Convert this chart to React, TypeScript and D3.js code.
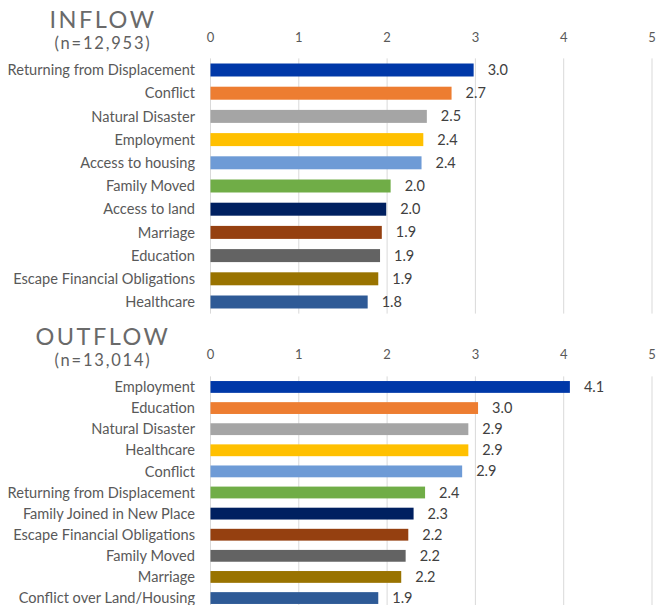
import React from 'react';
import { scaleLinear, scaleBand } from 'd3';

const inflowCategories = [
  'Returning from Displacement', 'Conflict', 'Natural Disaster', 'Employment',
  'Access to housing', 'Family Moved', 'Access to land', 'Marriage',
  'Education', 'Escape Financial Obligations', 'Healthcare',
];
const inflowValues = [2.98, 2.73, 2.45, 2.41, 2.39, 2.04, 1.99, 1.94, 1.92, 1.9, 1.78];
const inflowLabels = ['3.0', '2.7', '2.5', '2.4', '2.4', '2.0', '2.0', '1.9', '1.9', '1.9', '1.8'];

const outflowCategories = [
  'Employment', 'Education', 'Natural Disaster', 'Healthcare', 'Conflict',
  'Returning from Displacement', 'Family Joined in New Place',
  'Escape Financial Obligations', 'Family Moved', 'Marriage', 'Conflict over Land/Housing',
];
const outflowValues = [4.07, 3.03, 2.92, 2.92, 2.85, 2.43, 2.3, 2.24, 2.21, 2.16, 1.9];
const outflowLabels = ['4.1', '3.0', '2.9', '2.9', '2.9', '2.4', '2.3', '2.2', '2.2', '2.2', '1.9'];

const ticks = [0, 1, 2, 3, 4, 5];
const barColors = [
  '#0038A8', '#ED7D31', '#A5A5A5', '#FFC000', '#6E9BD6', '#70AD47',
  '#002060', '#954010', '#636363', '#997300', '#2E5A96',
];

const labelFont = 'Lato, "Open Sans", sans-serif';
const titleFont = 'Lato, "DejaVu Sans", sans-serif';

const x = scaleLinear().domain([0, 5]).range([210.5, 652]);

type PanelProps = {
  title: string;
  subtitle: string;
  categories: string[];
  values: number[];
  labels: string[];
  top: number;
  bottom: number;
  titleY: number;
  tickY: number;
};

const Panel = ({ title, subtitle, categories, values, labels, top, bottom, titleY, tickY }: PanelProps) => {
  const y = scaleBand<string>().domain(categories).range([top, bottom]).paddingInner(0.44).paddingOuter(0.22);

  return (
    <g>
      <text x={103} y={titleY} textAnchor="middle" fontFamily={titleFont} fontSize={23.5}
        letterSpacing={2.5} fill="#6a6a6a">{title}</text>
      <text x={103} y={titleY + 21} textAnchor="middle" fontFamily={titleFont} fontSize={16.5}
        letterSpacing={1.8} fill="#606060">{subtitle}</text>

      {ticks.map(t => (
        <g key={t}>
          <line x1={x(t)} x2={x(t)} y1={top} y2={bottom} stroke="#d9d9d9" strokeWidth={1} />
          <text x={x(t)} y={tickY} textAnchor="middle" fontFamily={labelFont} fontSize={13}
            fill="#595959">{t}</text>
        </g>
      ))}

      {categories.map((c, i) => {
        const yc = (y(c) ?? 0) + y.bandwidth() / 2;
        return (
          <g key={c}>
            <text x={195} y={yc} dy="0.35em" textAnchor="end" fontFamily={labelFont} fontSize={14.6}
              fill="#595959">{c}</text>
            <rect x={x(0)} y={y(c)} width={x(values[i]) - x(0)} height={y.bandwidth()} fill={barColors[i]} />
            <text x={x(values[i]) + 14} y={yc} dy="0.35em" fontFamily={labelFont} fontSize={14.5}
              fill="#404040">{labels[i]}</text>
          </g>
        );
      })}
    </g>
  );
};

export default function App() {
  return (
    <svg width={659} height={605} style={{ position: 'absolute', left: 0, top: 0, background: '#fff' }}>
      <Panel title="INFLOW" subtitle="(n=12,953)" categories={inflowCategories} values={inflowValues}
        labels={inflowLabels} top={58.4} bottom={313.6} titleY={28} tickY={42} />
      <Panel title="OUTFLOW" subtitle="(n=13,014)" categories={outflowCategories} values={outflowValues}
        labels={outflowLabels} top={376.4} bottom={608.6} titleY={345} tickY={359} />
    </svg>
  );
}
